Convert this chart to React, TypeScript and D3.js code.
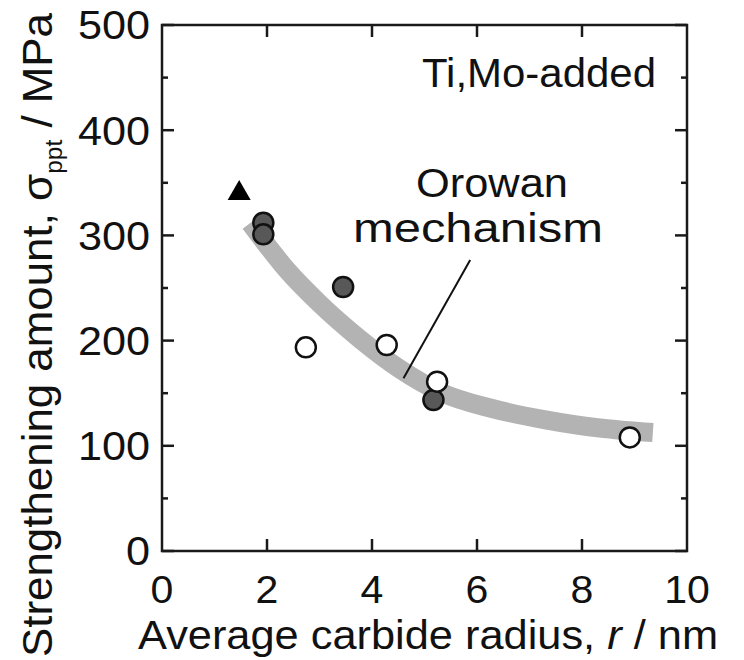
import React from "react";
import * as d3 from "d3";

// ---- data ----
const xTicks = [0, 2, 4, 6, 8, 10];
const yTicks = [0, 100, 200, 300, 400, 500];
const yMinorTicks = [50, 150, 250, 350, 450];

// Ti-added (triangle)
const triX = [1.47];
const triY = [340];

// dark filled circles
const darkX = [1.93, 1.93, 3.45, 5.17];
const darkY = [312, 301, 251, 143.5];

// open circles
const openX = [2.74, 4.28, 5.24, 8.91];
const openY = [193.6, 195.8, 161, 108];

// Orowan mechanism curve
const curveX = [1.68, 2.38, 3.01, 3.77, 4.53, 5.3, 6.25, 7.33, 8.34, 9.35];
const curveY = [311.8, 267.1, 234.8, 201.5, 173.0, 151.1, 135.9, 124.5, 116.9, 112.6];

// leader line for the "Orowan mechanism" label
const leaderX = [5.87, 4.6];
const leaderY = [276.6, 164.2];

const FONT = "'Liberation Sans', Arial, Helvetica, sans-serif";

export default function App() {
  const W = 744;
  const H = 660;
  const left = 162, right = 687, top = 25, bottom = 551;
  const x = d3.scaleLinear().domain([0, 10]).range([left, right]);
  const y = d3.scaleLinear().domain([0, 500]).range([bottom, top]);

  const line = d3
    .line<number>()
    .x((_, i) => x(curveX[i]))
    .y((_, i) => y(curveY[i]))
    .curve(d3.curveMonotoneX);
  const curvePath = line(curveX) || "";

  const tri = d3.symbol().type(d3.symbolTriangle).size(230)() || "";

  const axisColor = "#1a1a1a";
  const major = 12;
  const minor = 6;

  return (
    <svg
      width={W}
      height={H}
      style={{ position: "absolute", left: 0, top: 0, background: "#fff" }}
      fontFamily={FONT}
    >
      <rect x={0} y={0} width={W} height={H} fill="#fff" />

      {/* Orowan band */}
      <path d={curvePath} fill="none" stroke="#b3b3b3" strokeWidth={19} strokeLinecap="butt" />

      {/* leader line */}
      <line
        x1={x(leaderX[0])}
        y1={y(leaderY[0])}
        x2={x(leaderX[1])}
        y2={y(leaderY[1])}
        stroke="#111"
        strokeWidth={2}
      />

      {/* triangle */}
      {triX.map((v, i) => (
        <path key={"t" + i} d={tri} transform={`translate(${x(v)},${y(triY[i])})`} fill="#000" />
      ))}

      {/* dark circles */}
      {darkX.map((v, i) => (
        <circle
          key={"d" + i}
          cx={x(v)}
          cy={y(darkY[i])}
          r={10}
          fill="#585858"
          stroke="#111"
          strokeWidth={2.5}
        />
      ))}

      {/* open circles */}
      {openX.map((v, i) => (
        <circle
          key={"o" + i}
          cx={x(v)}
          cy={y(openY[i])}
          r={10}
          fill="#fff"
          stroke="#111"
          strokeWidth={2.5}
        />
      ))}

      {/* frame */}
      <rect
        x={left}
        y={top}
        width={right - left}
        height={bottom - top}
        fill="none"
        stroke={axisColor}
        strokeWidth={2.5}
      />

      {/* y ticks */}
      {yTicks.map((t) => (
        <g key={"yt" + t}>
          <line x1={left} x2={left + major} y1={y(t)} y2={y(t)} stroke={axisColor} strokeWidth={2.5} />
          <line x1={right} x2={right - major} y1={y(t)} y2={y(t)} stroke={axisColor} strokeWidth={2.5} />
          <text
            transform={`translate(${left - 12},${y(t)}) scale(1.08,1)`}
            dy="0.36em"
            textAnchor="end"
            fontSize={40}
            fill="#111"
          >
            {t}
          </text>
        </g>
      ))}
      {yMinorTicks.map((t) => (
        <g key={"ym" + t}>
          <line x1={left} x2={left + minor} y1={y(t)} y2={y(t)} stroke={axisColor} strokeWidth={2.5} />
          <line x1={right} x2={right - minor} y1={y(t)} y2={y(t)} stroke={axisColor} strokeWidth={2.5} />
        </g>
      ))}

      {/* x ticks */}
      {xTicks.map((t) => (
        <g key={"xt" + t}>
          {t > 0 && t < 10 && (
            <>
              <line x1={x(t)} x2={x(t)} y1={bottom} y2={bottom - major} stroke={axisColor} strokeWidth={2.5} />
              <line x1={x(t)} x2={x(t)} y1={top} y2={top + major} stroke={axisColor} strokeWidth={2.5} />
            </>
          )}
          <text
            transform={`translate(${x(t)},603) scale(1.08,1)`}
            textAnchor="middle"
            fontSize={38}
            fill="#111"
          >
            {t}
          </text>
        </g>
      ))}

      {/* annotations */}
      <text x={422} y={87} fontSize={40} fill="#111" textLength={234} lengthAdjust="spacingAndGlyphs">
        Ti,Mo-added
      </text>
      <text x={416} y={197} fontSize={40} fill="#111" textLength={152} lengthAdjust="spacingAndGlyphs">
        Orowan
      </text>
      <text x={353} y={242} fontSize={40} fill="#111" textLength={250} lengthAdjust="spacingAndGlyphs">
        mechanism
      </text>

      {/* x axis title */}
      <text x={138} y={649} fontSize={40} fill="#111" textLength={580} lengthAdjust="spacingAndGlyphs">
        Average carbide radius, <tspan fontStyle="italic">r</tspan> / nm
      </text>

      {/* y axis title */}
      <text
        transform="translate(52,657) rotate(-90)"
        fontSize={43}
        fill="#111"
        textLength={644}
        lengthAdjust="spacingAndGlyphs"
      >
        Strengthening amount, σ
        <tspan fontSize={24} dy={10}>ppt</tspan>
        <tspan dy={-10}> / MPa</tspan>
      </text>
    </svg>
  );
}
